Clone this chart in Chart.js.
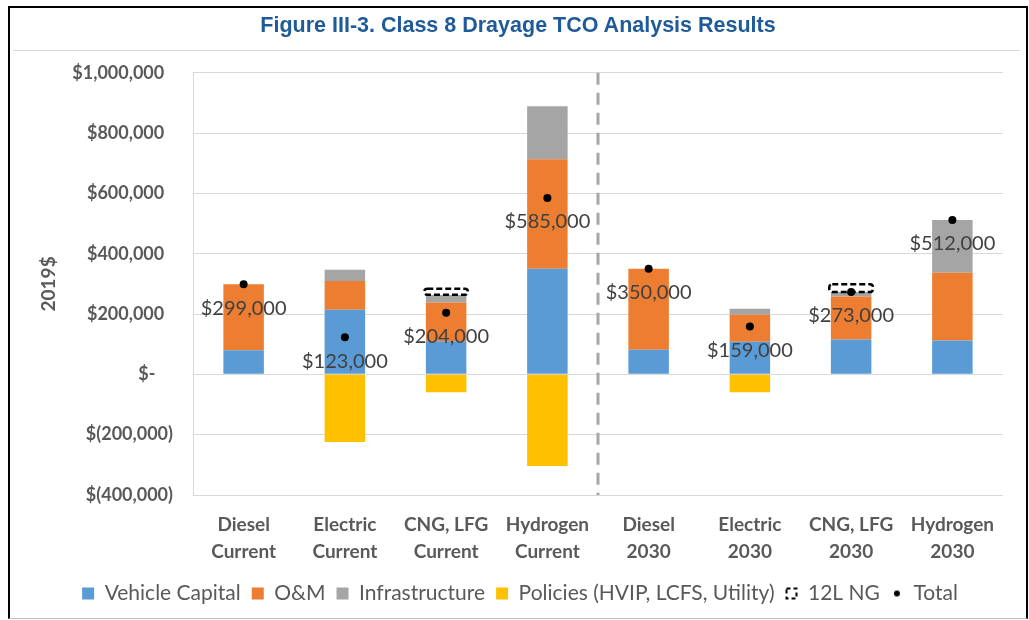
<!DOCTYPE html>
<html>
<head>
<meta charset="utf-8">
<script src="https://cdn.jsdelivr.net/npm/chart.js@4.4.1/dist/chart.umd.min.js"></script>
<style>
  body { margin: 0; width: 1029px; height: 620px; overflow: hidden; background: #fff; position: relative; }
  #frame { position: absolute; left: 8px; top: 6px; width: 1016px; height: 610px;
    border-top: 2px solid #000; border-left: 2px solid #000; border-right: 2px solid #000;
    border-bottom: 1px solid #bfbfbf; z-index: 2; pointer-events: none; }
  #title { position: absolute; left: 0; width: 1036px; top: 13px; text-align: center;
    font: bold 21.5px "Liberation Sans Narrow", "Arial Narrow", "Liberation Sans", sans-serif; color: #1f5b98; z-index: 3; }
  #sep { position: absolute; left: 13px; width: 1007px; top: 50px; height: 1px; background: #d9d9d9; }
  #wrap { position: absolute; left: 0; top: 42px; width: 1029px; height: 572px; }
</style>
</head>
<body>
<div id="frame"></div>
<div id="title">Figure III-3. Class 8 Drayage TCO Analysis Results</div>
<div id="sep"></div>
<div id="wrap"><canvas id="chart"></canvas></div>
<script>
const categories = [["Diesel", "Current"], ["Electric", "Current"], ["CNG, LFG", "Current"], ["Hydrogen", "Current"],
  ["Diesel", "2030"], ["Electric", "2030"], ["CNG, LFG", "2030"], ["Hydrogen", "2030"]];
const vehicleCapital = [80000, 214000, 110000, 350000, 82000, 108000, 116000, 112000];
const oAndM = [219000, 96000, 128000, 363000, 268000, 90000, 142000, 225000];
const infrastructure = [0, 37000, 25000, 176000, 0, 20000, 15000, 175000];
const policies = [0, -224000, -59000, -304000, 0, -59000, 0, 0];
const ng12L = [null, null, [264000, 284000], null, null, null, [273000, 299000], null];
const totals = [299000, 123000, 204000, 585000, 350000, 159000, 273000, 512000];
const totalLabels = ["$299,000", "$123,000", "$204,000", "$585,000", "$350,000", "$159,000", "$273,000", "$512,000"];

Chart.defaults.font.family = "Lato, 'Open Sans', sans-serif";
Chart.defaults.color = "#595959";

function ngIcon() {
  const c = document.createElement("canvas");
  c.width = 14; c.height = 14;
  const g = c.getContext("2d");
  g.strokeStyle = "#000"; g.lineWidth = 2;
  g.setLineDash([4, 3]);
  g.strokeRect(2, 2, 10, 10);
  return c;
}
function dotIcon() {
  const c = document.createElement("canvas");
  c.width = 8; c.height = 8;
  const g = c.getContext("2d");
  g.fillStyle = "#000";
  g.beginPath(); g.arc(4, 4, 3, 0, Math.PI * 2); g.fill();
  return c;
}

// dashed divider between current and 2030, dashed 12L NG boxes and total labels
const extras = {
  id: "extras",
  beforeDatasetsDraw(chart) {
    const {ctx, chartArea, scales: {x}} = chart;
    const xm = (x.getPixelForValue(3) + x.getPixelForValue(4)) / 2;
    ctx.save();
    ctx.strokeStyle = "#a6a6a6";
    ctx.lineWidth = 3;
    ctx.setLineDash([12, 8]);
    ctx.beginPath();
    ctx.moveTo(xm, chartArea.top);
    ctx.lineTo(xm, chartArea.bottom);
    ctx.stroke();
    ctx.restore();
  },
  afterDatasetsDraw(chart) {
    const {ctx} = chart;
    const ngMeta = chart.getDatasetMeta(4);
    ctx.save();
    ctx.strokeStyle = "#000";
    ctx.lineWidth = 2.5;
    ctx.setLineDash([6, 3]);
    ngMeta.data.forEach((bar, i) => {
      if (ng12L[i] == null) return;
      const w = bar.width;
      const top = Math.min(bar.y, bar.base), h = Math.abs(bar.base - bar.y);
      ctx.beginPath();
      ctx.roundRect(bar.x - w / 2, top, w, h, 3);
      ctx.stroke();
    });
    ctx.restore();

    const totMeta = chart.getDatasetMeta(5);
    ctx.save();
    ctx.font = "20px Lato, 'Open Sans', sans-serif";
    ctx.fillStyle = "#404040";
    ctx.textAlign = "center";
    ctx.textBaseline = "middle";
    totMeta.data.forEach((pt, i) => {
      ctx.fillText(totalLabels[i], pt.x, pt.y + 24);
    });
    ctx.restore();
  }
};

new Chart(document.getElementById("chart"), {
  type: "bar",
  data: {
    labels: categories,
    datasets: [
      { label: "Vehicle Capital", data: vehicleCapital, backgroundColor: "#5b9bd5", stack: "main" },
      { label: "O&M", data: oAndM, backgroundColor: "#ed7d31", stack: "main" },
      { label: "Infrastructure", data: infrastructure, backgroundColor: "#a5a5a5", stack: "main" },
      { label: "Policies (HVIP, LCFS, Utility)", data: policies, backgroundColor: "#ffc000", stack: "main" },
      { label: "12L NG", data: ng12L, backgroundColor: "rgba(0,0,0,0)", stack: "ng", grouped: false,
        barPercentage: 0.54 },
      { type: "line", label: "Total", data: totals, showLine: false, pointRadius: 4,
        pointBackgroundColor: "#000", pointBorderWidth: 0, borderColor: "#000", backgroundColor: "#000", order: -1 }
    ]
  },
  options: {
    responsive: true,
    maintainAspectRatio: false,
    animation: false,
    datasets: { bar: { barPercentage: 0.5, categoryPercentage: 0.8, borderWidth: 0 } },
    layout: { padding: { top: 9, right: 26, left: 37, bottom: 0 } },
    scales: {
      x: {
        stacked: true,
        grid: { display: false, drawTicks: false },
        border: { display: false },
        ticks: { padding: 16, color: "#595959", font: { size: 19, weight: "bold", lineHeight: 1.42 }, maxRotation: 0 },
        afterFit(scale) { scale.height = 77; }
      },
      y: {
        stacked: true,
        min: -400000,
        max: 1000000,
        grid: { color: "#d9d9d9", drawTicks: false },
        border: { display: true, color: "#d9d9d9" },
        ticks: {
          stepSize: 200000,
          padding: 20,
          color: "#595959",
          font: { size: 18, weight: "bold" },
          callback(v) {
            if (v === 0) return "$-    ";
            if (v < 0) return "$(" + Math.abs(v).toLocaleString("en-US") + ")";
            return "$" + v.toLocaleString("en-US") + "  ";
          }
        },
        title: { display: true, text: "2019$", color: "#595959", font: { size: 19, weight: "bold" },
          padding: { top: 0, bottom: 0 } },
        afterFit(scale) { scale.width = 156; }
      }
    },
    plugins: {
      tooltip: { enabled: false },
      legend: {
        position: "bottom",
        labels: {
          color: "#595959",
          font: { size: 21 },
          padding: 11,
          boxWidth: 12,
          boxHeight: 12,
          usePointStyle: true,
          sort: (a, b) => a.datasetIndex - b.datasetIndex,
          generateLabels(chart) {
            const items = Chart.defaults.plugins.legend.labels.generateLabels(chart);
            items.forEach(it => {
              if (it.datasetIndex === 4) it.pointStyle = ngIcon();
              else if (it.datasetIndex === 5) it.pointStyle = dotIcon();
              else it.pointStyle = "rect";
              it.lineWidth = 0;
            });
            return items;
          }
        }
      }
    }
  },
  plugins: [extras]
});
</script>
</body>
</html>
